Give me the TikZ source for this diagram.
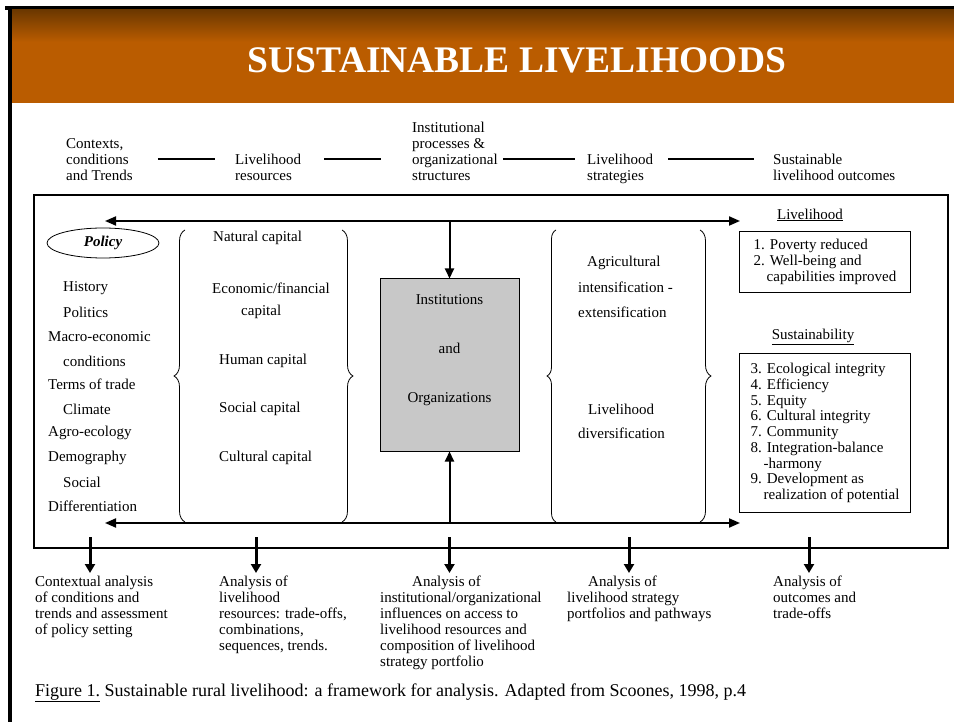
\documentclass[tikz,border=0pt]{standalone}
\usepackage{fontspec}
\setmainfont{Liberation Serif}
\usetikzlibrary{shapes.geometric,arrows.meta,decorations.pathreplacing}
\definecolor{hdrdark}{RGB}{108,56,0}
\definecolor{hdrorange}{RGB}{186,92,0}
\definecolor{boxgray}{RGB}{200,200,200}

\begin{document}
\begin{tikzpicture}
[every node/.style={inner sep=0pt, font=\fontsize{15}{16}\selectfont},
 lbl/.style={anchor=west},
 blk/.style={anchor=north west, align=left},
 rule/.style={line width=2pt},
 biarrow/.style={line width=2pt, {Triangle[length=11pt,width=9pt]}-{Triangle[length=11pt,width=9pt]}},
 inarrow/.style={line width=2pt, -{Triangle[length=10pt,width=9pt]}},
 outarrow/.style={line width=3pt, -{Triangle[length=9pt,width=10pt]}, shorten >=3pt},
 curl/.style={line width=0.8pt, decorate, decoration={brace, amplitude=#1}},
 outcome/.style={draw, line width=1pt, anchor=north west, align=left, minimum width=171pt,
   font=\fontsize{15}{15.7}\selectfont}]
\useasboundingbox (0pt,0pt) rectangle (954pt,-722pt);

% header band
\fill[black] (5pt,-6pt) rectangle (954pt,-10pt);
\shade[top color=hdrdark, bottom color=hdrorange] (11pt,-10pt) rectangle (954pt,-42pt);
\fill[hdrorange] (11pt,-42pt) rectangle (954pt,-103pt);
\fill[black] (8pt,-6pt) rectangle (12pt,-722pt);
\node (title) [text=white, font=\fontsize{37.5}{40}\bfseries] at (517pt, -60pt) {SUSTAINABLE LIVELIHOODS};

% top row
\node (ctx) [blk] at (66pt, -138pt) {Contexts,\\conditions\\and Trends};
\node (res) [blk] at (235pt, -154pt) {Livelihood\\resources};
\node (proc) [blk] at (412pt, -122pt) {Institutional\\processes \&\\organizational\\structures};
\node (strat) [blk] at (587pt, -154pt) {Livelihood\\strategies};
\node (outc) [blk] at (773pt, -154pt) {Sustainable\\livelihood outcomes};
\draw[rule] ([xshift=25pt]ctx.east) -- ([xshift=-20pt]res.west |- ctx.east);
\draw[rule] ([xshift=23pt]res.east |- ctx.east) -- ([xshift=-31pt]proc.west |- ctx.east);
\draw[rule] ([xshift=5pt]proc.east |- ctx.east) -- ([xshift=-12pt]strat.west |- ctx.east);
\draw[rule] ([xshift=15pt]strat.east |- ctx.east) -- ([xshift=-19pt]outc.west |- ctx.east);

% framework box
\draw[line width=2pt] (34pt,-195pt) rectangle (948pt,-548pt);
\coordinate (tl) at (105pt, -221pt);
\coordinate (tr) at (740pt, -221pt);
\coordinate (bl) at (105pt, -523pt);
\coordinate (br) at (740pt, -523pt);
\draw[biarrow] (tl) -- (tr);
\draw[biarrow] (bl) -- (br);

% contexts
\node (policy) [ellipse, draw, line width=0.8pt, minimum width=112pt, minimum height=30pt, font=\fontsize{15}{16}\bfseries\itshape] at (103pt, -243pt) {Policy};
\node (c1) [lbl] at (63pt, -288pt) {History};
\node (c2) [lbl] at (63pt, -312pt) {Politics};
\node (c3) [lbl] at (48pt, -337pt) {Macro-economic};
\node (c4) [lbl] at (63pt, -361pt) {conditions};
\node (c5) [lbl] at (48pt, -384pt) {Terms of trade};
\node (c6) [lbl] at (63pt, -409pt) {Climate};
\node (c7) [lbl] at (48pt, -433pt) {Agro-ecology};
\node (c8) [lbl] at (48pt, -458pt) {Demography};
\node (c9) [lbl] at (63pt, -482pt) {Social};
\node (c10) [lbl] at (48pt, -506pt) {Differentiation};

% resources
\draw[curl=11pt] (185pt,-522pt) -- (185pt,-230pt);
\draw[curl=11pt] (342pt,-230pt) -- (342pt,-522pt);
\node (r1) [lbl] at (213pt, -238pt) {Natural capital};
\node (r2) [lbl] at (212pt, -288pt) {Economic/financial};
\node (r3) [lbl] at (241pt, -312pt) {capital};
\node (r4) [lbl] at (219pt, -361pt) {Human capital};
\node (r5) [lbl] at (219pt, -409pt) {Social capital};
\node (r6) [lbl] at (219pt, -458pt) {Cultural capital};

% institutions
\node (inst) [draw, line width=1pt, fill=boxgray, minimum width=139pt, minimum height=172pt] at (449.5pt, -365pt) {};
\node (insttext) [align=center, font=\fontsize{15}{49}\selectfont] at (449.5pt, -350pt) {Institutions\\and\\Organizations};
\coordinate (itop) at (449.5pt, -221pt);
\coordinate (ibot) at (449.5pt, -523pt);
\draw[inarrow] (itop) -- (inst);
\draw[inarrow] (ibot) -- (inst);

% strategies
\draw[curl=9pt] (556pt,-522pt) -- (556pt,-230pt);
\draw[curl=11pt] (700pt,-230pt) -- (700pt,-522pt);
\node (s1) [lbl] at (587pt, -263pt) {Agricultural};
\node (s2) [lbl] at (578pt, -287pt) {intensification -};
\node (s3) [lbl] at (578pt, -312pt) {extensification};
\node (s4) [lbl] at (588pt, -409pt) {Livelihood};
\node (s5) [lbl] at (578pt, -433pt) {diversification};

% outcomes
\node (livh) at (810pt, -215pt) {\underline{Livelihood}};
\node (box1) [outcome, minimum height=61pt] at (739pt, -231pt)
  {1. Poverty reduced\\2. Well-being and\\\hspace*{13pt}capabilities improved};
\node (sust) at (813pt, -337pt) {\underline{Sustainability}};
\node (box2) [outcome, minimum height=159pt] at (739pt, -353pt)
  {3. Ecological integrity\\4. Efficiency\\5. Equity\\6. Cultural integrity\\7. Community\\8. Integration-balance\\\hspace*{13pt}-harmony\\9. Development as\\\hspace*{13pt}realization of potential};

% analyses
\node (a1) [blk] at (35pt, -576pt) {Contextual analysis\\of conditions and\\trends and assessment\\of policy setting};
\node (a2) [blk] at (219pt, -576pt) {Analysis of\\livelihood\\resources: trade-offs,\\combinations,\\sequences, trends.};
\node (a3) [blk] at (380pt, -576pt) {\hspace*{32pt}Analysis of\\institutional/organizational\\influences on access to\\livelihood resources and\\composition of livelihood\\strategy portfolio};
\node (a4) [blk] at (567pt, -576pt) {\hspace*{21pt}Analysis of\\livelihood strategy\\portfolios and pathways};
\node (a5) [blk] at (773pt, -576pt) {Analysis of\\outcomes and\\trade-offs};
\coordinate (o1) at (90pt, -537pt);
\coordinate (o2) at (256pt, -537pt);
\coordinate (o3) at (449.5pt, -537pt);
\coordinate (o4) at (629pt, -537pt);
\coordinate (o5) at (809pt, -537pt);
\draw[outarrow] (o1) -- (o1 |- a1.north);
\draw[outarrow] (o2) -- (o2 |- a2.north);
\draw[outarrow] (o3) -- (o3 |- a3.north);
\draw[outarrow] (o4) -- (o4 |- a4.north);
\draw[outarrow] (o5) -- (o5 |- a5.north);

% caption
\node (caption) [lbl, font=\fontsize{18}{20}\selectfont] at (35pt, -693pt)
  {\underline{Figure 1.} Sustainable rural livelihood: a framework for analysis. Adapted from Scoones, 1998, p.4};
\end{tikzpicture}
\end{document}
